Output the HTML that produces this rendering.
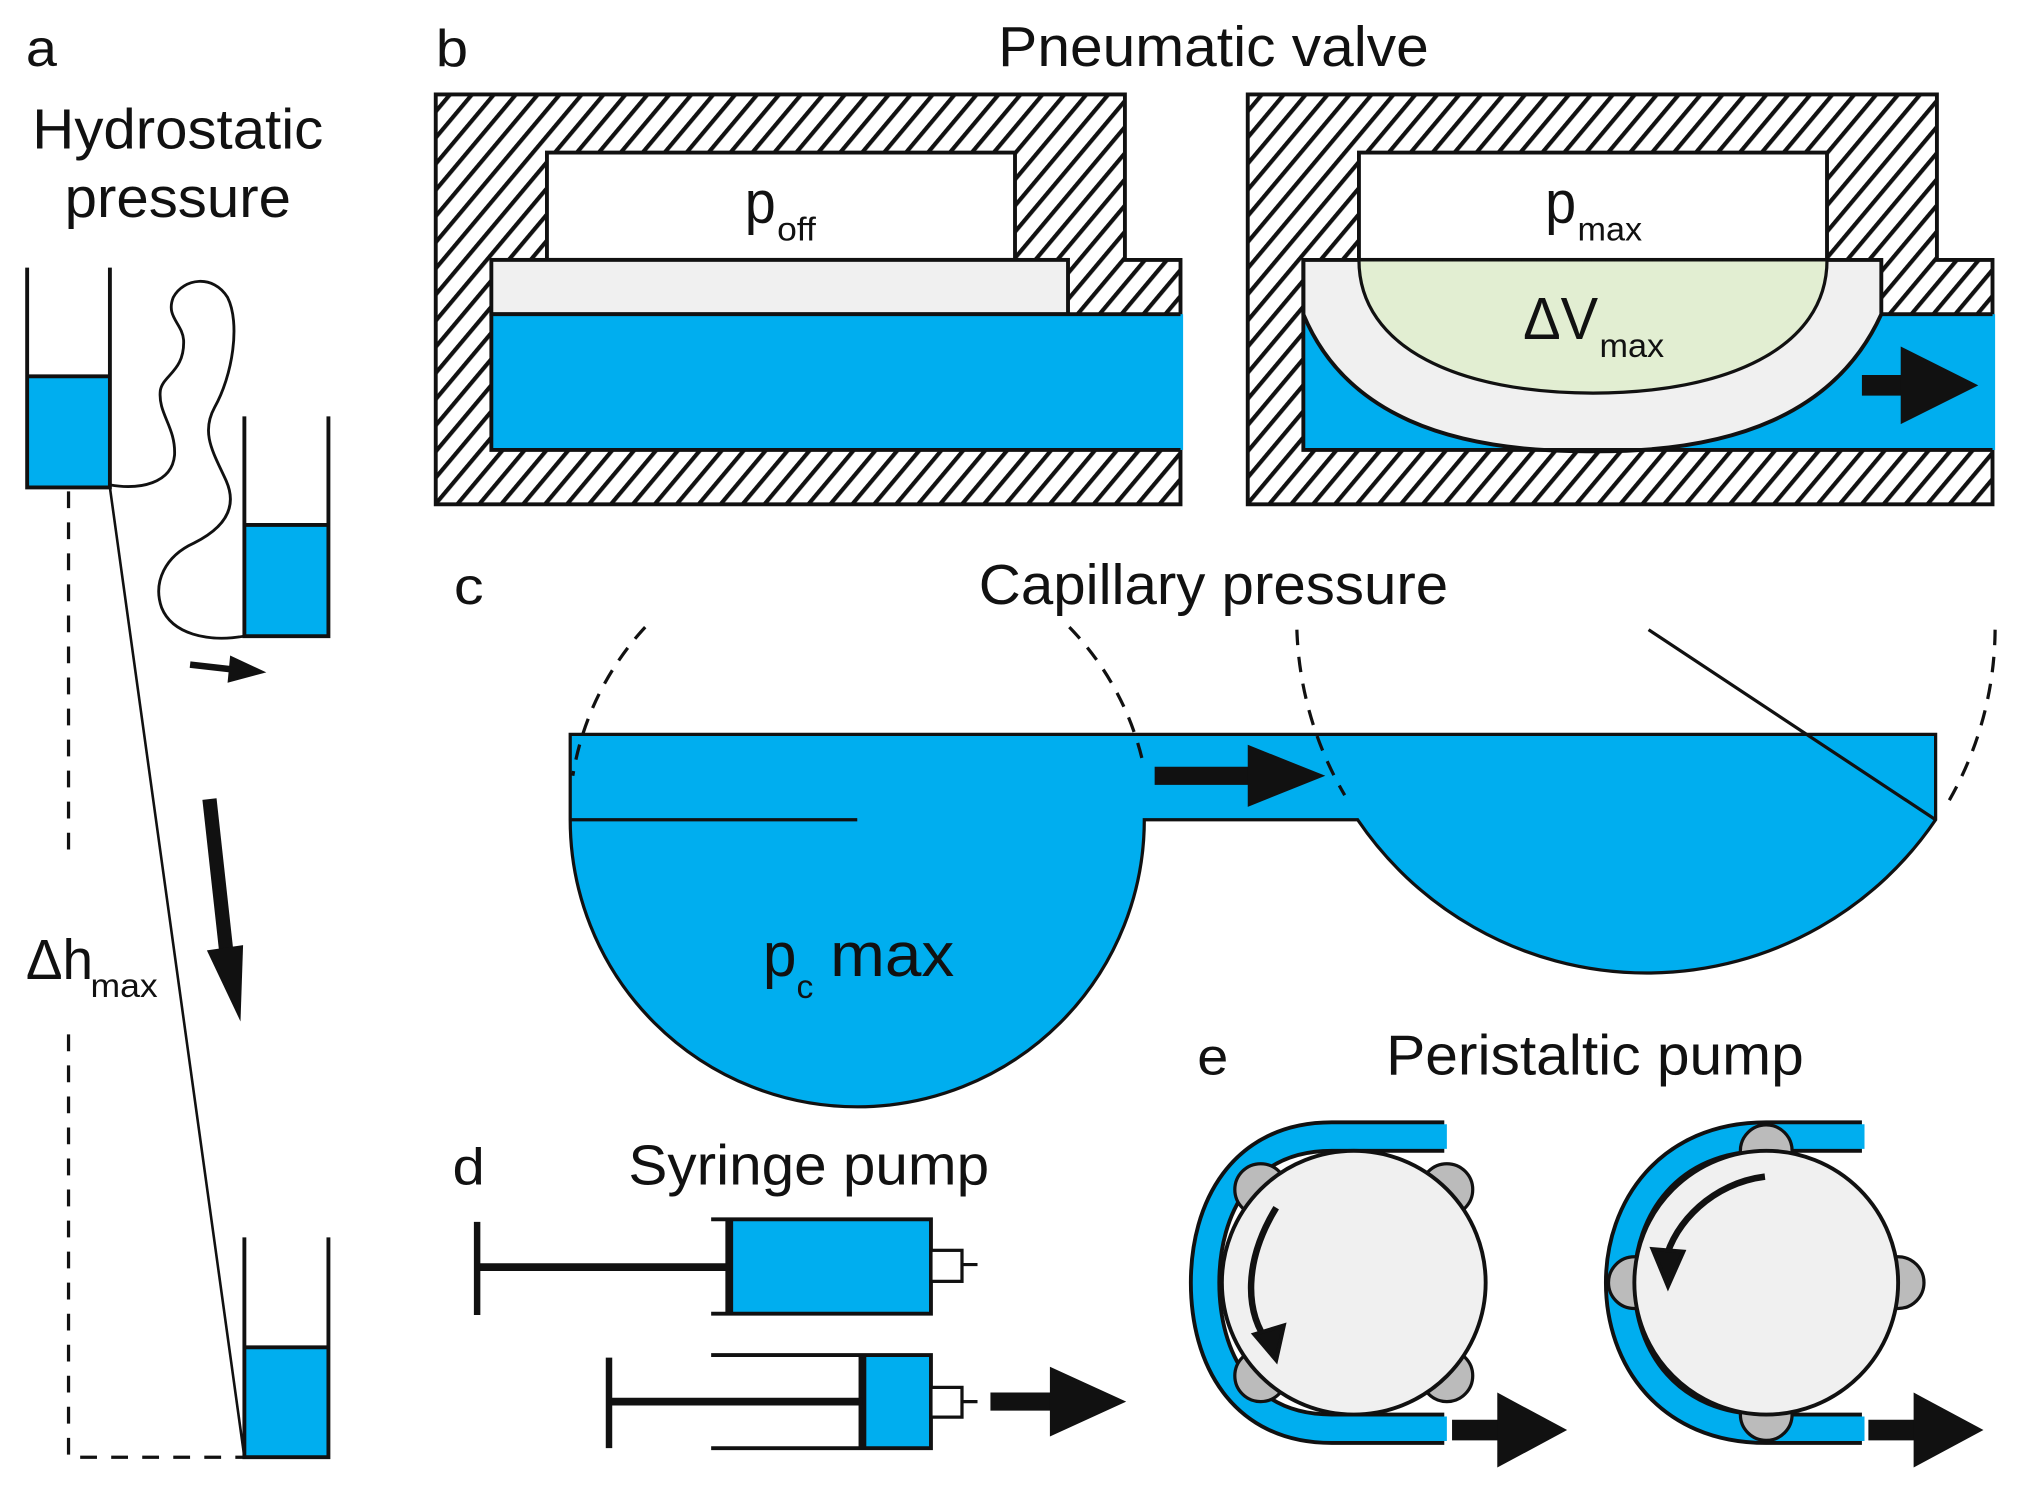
<!DOCTYPE html>
<html><head><meta charset="utf-8"><style>
html,body{margin:0;padding:0;background:#fff;}
svg{display:block;}
text{font-family:"Liberation Sans",Arial,sans-serif;fill:#111;}
</style></head><body>
<svg width="2017" height="1497" viewBox="0 0 2017 1497" xmlns="http://www.w3.org/2000/svg">
<defs>
<pattern id="h" patternUnits="userSpaceOnUse" width="13" height="13" patternTransform="rotate(40)">
<rect width="13" height="13" fill="#fff"/><rect x="0" y="0" width="3.2" height="13" fill="#111"/>
</pattern>
</defs>
<g transform="scale(1.293)">
<!-- Panel a -->
<text x="20" y="51" font-size="40" textLength="24" lengthAdjust="spacingAndGlyphs">a</text>
<text x="25" y="115" font-size="44" textLength="225" lengthAdjust="spacingAndGlyphs">Hydrostatic</text>
<text x="50" y="168" font-size="44" textLength="175" lengthAdjust="spacingAndGlyphs">pressure</text>
<rect x="21" y="291" width="64" height="86" fill="#00aeef"/>
<path d="M21,207 V377 H85 V207 M21,291 H85" fill="none" stroke="#111" stroke-width="3"/>
<rect x="189" y="406" width="65" height="86" fill="#00aeef"/>
<path d="M189,322 V492 H254 V322 M189,406 H254" fill="none" stroke="#111" stroke-width="3"/>
<rect x="189" y="1042" width="65" height="85" fill="#00aeef"/>
<path d="M189,957 V1127 H254 V957 M189,1042 H254" fill="none" stroke="#111" stroke-width="3"/>
<path d="M85,375 C108,379 133,374 135,352 C136,330 122,320 124,302 C126,290 143,287 142,263 C141,250 128,245 134,230 C142,215 165,212 176,230 C186,250 180,290 166,315 C155,335 165,350 175,372 C185,395 170,410 150,420 C128,430 118,450 125,470 C133,490 160,497 189,492" fill="none" stroke="#111" stroke-width="2.2"/>
<path d="M147,514 L182,518" stroke="#111" stroke-width="5"/>
<path d="M178,507 L206,520 L176,528 Z" fill="#111"/>
<path d="M53,380 V660 M53,800 V1127 H189" fill="none" stroke="#111" stroke-width="2.5" stroke-dasharray="13,11"/>
<path d="M85,377 L189,1127" stroke="#111" stroke-width="2"/>
<path d="M162,618 L176,745" stroke="#111" stroke-width="11"/>
<path d="M160,735 L188,731 L186,790 Z" fill="#111"/>
<text x="20" y="757" font-size="44" textLength="52" lengthAdjust="spacingAndGlyphs">Δh</text>
<text x="70" y="771" font-size="26" textLength="52" lengthAdjust="spacingAndGlyphs">max</text>

<!-- Panel b -->
<text x="337" y="51" font-size="40" textLength="25" lengthAdjust="spacingAndGlyphs">b</text>
<text x="772" y="51" font-size="44" textLength="333" lengthAdjust="spacingAndGlyphs">Pneumatic valve</text>
<path d="M337,73 H870 V201 H913 V390 H337 Z" fill="url(#h)" stroke="#111" stroke-width="3"/>
<rect x="423" y="118" width="362" height="83" fill="#fff" stroke="#111" stroke-width="3"/>
<rect x="380" y="201" width="446" height="42" fill="#f0f0f0" stroke="#111" stroke-width="3"/>
<rect x="380" y="243" width="535" height="105" fill="#00aeef"/>
<path d="M913,243 H380 V348 H913" fill="none" stroke="#111" stroke-width="3"/>
<text x="576" y="172" font-size="46" textLength="24" lengthAdjust="spacingAndGlyphs">p</text>
<text x="601" y="186" font-size="26" textLength="30" lengthAdjust="spacingAndGlyphs">off</text>

<path d="M965,73 H1498 V201 H1541 V390 H965 Z" fill="url(#h)" stroke="#111" stroke-width="3"/>
<rect x="1051" y="118" width="362" height="83" fill="#fff" stroke="#111" stroke-width="3"/>
<rect x="1008" y="243" width="535" height="105" fill="#00aeef"/>
<path d="M1008,201 H1455 V243 C1420,320 1340,350 1232,349 C1120,350 1040,320 1008,243 Z" fill="#f0f0f0" stroke="#111" stroke-width="3"/>
<path d="M1051,201 C1051,270 1130,304 1232,304 C1334,304 1413,270 1413,201 Z" fill="#e2eed2" stroke="#111" stroke-width="2.5"/>
<path d="M1051,201 H1413" stroke="#111" stroke-width="2.5" stroke-dasharray="11,7"/>
<path d="M1541,243 H1455 M1008,201 V348 H1541" fill="none" stroke="#111" stroke-width="3"/>
<path d="M1440,298 H1480" stroke="#111" stroke-width="16"/>
<path d="M1470,268 L1530,298 L1470,328 Z" fill="#111"/>
<text x="1195" y="172" font-size="46" textLength="24" lengthAdjust="spacingAndGlyphs">p</text>
<text x="1220" y="186" font-size="26" textLength="50" lengthAdjust="spacingAndGlyphs">max</text>
<text x="1178" y="262" font-size="46" fill="#333" textLength="58" lengthAdjust="spacingAndGlyphs">ΔV</text>
<text x="1237" y="276" font-size="26" textLength="50" lengthAdjust="spacingAndGlyphs">max</text>

<!-- Panel c -->
<text x="351" y="467" font-size="40" textLength="23" lengthAdjust="spacingAndGlyphs">c</text>
<text x="757" y="467" font-size="44" textLength="363" lengthAdjust="spacingAndGlyphs">Capillary pressure</text>
<path d="M441,568 H1497 V634 A270,270 0 0 1 1050,634 H885 A222,222 0 0 1 441,634 Z" fill="#00aeef" stroke="#111" stroke-width="2.5"/>
<path d="M441,634 H663 M1275,487 L1497,634" stroke="#111" stroke-width="2.5"/>
<path d="M499,485 A222,222 0 0 0 443,600 M827,485 A222,222 0 0 1 884,590" fill="none" stroke="#111" stroke-width="2.5" stroke-dasharray="12,9"/>
<path d="M1003,487 A270,270 0 0 0 1040,615 M1543,487 A270,270 0 0 1 1504,625" fill="none" stroke="#111" stroke-width="2.5" stroke-dasharray="12,9"/>
<path d="M893,600 H975" stroke="#111" stroke-width="14"/>
<path d="M965,576 L1025,600 L965,624 Z" fill="#111"/>
<text x="590" y="755" font-size="48" textLength="26" lengthAdjust="spacingAndGlyphs">p</text>
<text x="616" y="772" font-size="26">c</text>
<text x="642" y="755" font-size="48" textLength="96" lengthAdjust="spacingAndGlyphs">max</text>

<!-- Panel d -->
<text x="350" y="916" font-size="40" textLength="25" lengthAdjust="spacingAndGlyphs">d</text>
<text x="486" y="916" font-size="44" textLength="279" lengthAdjust="spacingAndGlyphs">Syringe pump</text>
<rect x="564" y="943" width="156" height="73" fill="#00aeef"/>
<path d="M550,943 H720 V1016 H550 M564,943 V1016" fill="none" stroke="#111" stroke-width="3"/>
<path d="M564,943 V1016" stroke="#111" stroke-width="6"/>
<path d="M369,980 H564" stroke="#111" stroke-width="6"/>
<path d="M369,945 V1017" stroke="#111" stroke-width="5"/>
<rect x="720" y="967" width="24" height="24" fill="#fff" stroke="#111" stroke-width="2.5"/>
<path d="M744,978 H756" stroke="#111" stroke-width="2.5"/>
<rect x="667" y="1048" width="53" height="72" fill="#00aeef"/>
<path d="M550,1048 H720 V1120 H550" fill="none" stroke="#111" stroke-width="3"/>
<path d="M667,1048 V1120" stroke="#111" stroke-width="6"/>
<path d="M471,1084 H667" stroke="#111" stroke-width="6"/>
<path d="M471,1050 V1120" stroke="#111" stroke-width="5"/>
<rect x="720" y="1073" width="24" height="23" fill="#fff" stroke="#111" stroke-width="2.5"/>
<path d="M744,1084 H756" stroke="#111" stroke-width="2.5"/>
<path d="M766,1084 H825" stroke="#111" stroke-width="14"/>
<path d="M812,1057 L871,1084 L812,1111 Z" fill="#111"/>

<!-- Panel e -->
<text x="926" y="831" font-size="40" textLength="24" lengthAdjust="spacingAndGlyphs">e</text>
<text x="1072" y="831" font-size="44" textLength="323" lengthAdjust="spacingAndGlyphs">Peristaltic pump</text>
<!-- pump 1 -->
<path d="M1117,879 H1030 C960,879 932,935 932,992 C932,1050 960,1105 1030,1105 H1117" fill="none" stroke="#111" stroke-width="25"/>
<path d="M1119,879 H1030 C960,879 932,935 932,992 C932,1050 960,1105 1030,1105 H1119" fill="none" stroke="#00aeef" stroke-width="19"/>
<g fill="#bbb" stroke="#111" stroke-width="2.5">
<circle cx="975" cy="920" r="20"/><circle cx="1119" cy="920" r="20"/>
<circle cx="975" cy="1064" r="20"/><circle cx="1119" cy="1064" r="20"/>
</g>
<circle cx="1047" cy="992" r="102" fill="#f0f0f0" stroke="#111" stroke-width="3"/>
<path d="M987,934 C962,975 962,1015 982,1040" fill="none" stroke="#111" stroke-width="5"/>
<path d="M970,1032 L987,1052 L993,1025 Z" fill="#111" stroke="#111" stroke-width="3"/>
<path d="M1123,1106 H1165" stroke="#111" stroke-width="16"/>
<path d="M1158,1077 L1212,1106 L1158,1135 Z" fill="#111"/>
<!-- pump 2 -->
<path d="M1440,879 H1366 C1290,879 1253,935 1253,992 C1253,1050 1290,1105 1366,1105 H1440" fill="none" stroke="#111" stroke-width="25"/>
<path d="M1442,879 H1366 C1290,879 1253,935 1253,992 C1253,1050 1290,1105 1366,1105 H1442" fill="none" stroke="#00aeef" stroke-width="19"/>
<g fill="#bbb" stroke="#111" stroke-width="2.5">
<circle cx="1366" cy="890" r="20"/><circle cx="1366" cy="1094" r="20"/>
<circle cx="1264" cy="992" r="20"/><circle cx="1468" cy="992" r="20"/>
</g>
<circle cx="1366" cy="992" r="102" fill="#f0f0f0" stroke="#111" stroke-width="3"/>
<path d="M1365,910 C1325,915 1295,945 1288,975" fill="none" stroke="#111" stroke-width="5"/>
<path d="M1278,966 L1290,995 L1302,968 Z" fill="#111" stroke="#111" stroke-width="3"/>
<path d="M1445,1106 H1487" stroke="#111" stroke-width="16"/>
<path d="M1480,1077 L1534,1106 L1480,1135 Z" fill="#111"/>
</g>
</svg>
</body></html>
